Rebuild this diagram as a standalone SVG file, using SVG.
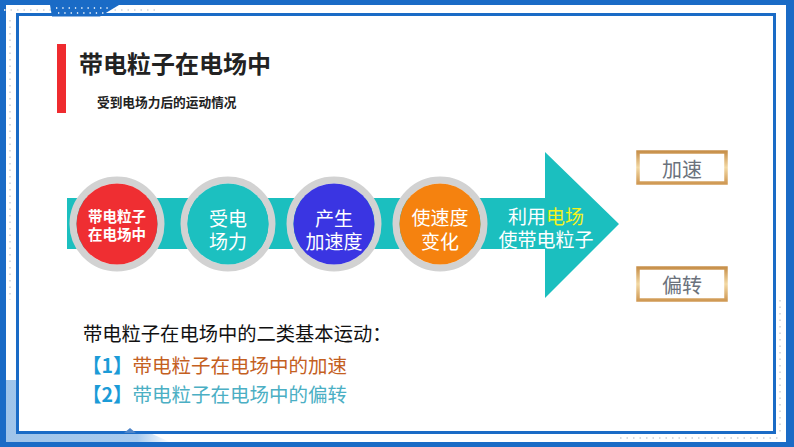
<svg xmlns="http://www.w3.org/2000/svg" width="794" height="447" viewBox="0 0 794 447">
<defs>
<style>
.cjk{font-family:"Noto Sans CJK SC","Noto Sans",sans-serif;}
.ctext{fill:#ffffff;font-size:19px;text-anchor:middle;dominant-baseline:central;}
.small{font-size:14.5px;font-weight:bold;}
.ring{fill:none;stroke:#d2d2d2;stroke-width:7;}
.box{fill:#ffffff;stroke:url(#gold);stroke-width:3.5;}
.btext{fill:#6b727c;font-size:20px;text-anchor:middle;dominant-baseline:central;}
.brk{fill:#1b9bd7;font-weight:bold;}
</style>
<linearGradient id="gold" x1="0" y1="0" x2="0" y2="1">
<stop offset="0" stop-color="#c8914c"/>
<stop offset="0.5" stop-color="#f3d9a4"/>
<stop offset="1" stop-color="#d09a55"/>
</linearGradient>
<linearGradient id="lb" x1="0" y1="0" x2="1" y2="0">
<stop offset="0" stop-color="#9fc4ea"/>
<stop offset="0.8" stop-color="#a9cbee"/>
<stop offset="1" stop-color="#a9cbee" stop-opacity="0"/>
</linearGradient>
</defs>

<g id="frame">
<rect x="0" y="0" width="794" height="447" fill="#1a6bc6"/>
<rect x="6" y="5" width="780" height="437" fill="#ffffff"/>
<polygon points="6,380 17,380 17,433 150,433 170,442 6,442" fill="url(#lb)"/>
<line x1="10" y1="20" x2="10" y2="300" stroke="#d6dbe2" stroke-width="2" stroke-dasharray="1.5 5"/>
<line x1="4" y1="10" x2="160" y2="10" stroke="#d6dbe2" stroke-width="2" stroke-dasharray="1.5 5"/>
<line x1="780" y1="300" x2="780" y2="436" stroke="#d6dbe2" stroke-width="2" stroke-dasharray="1.5 5"/>
<line x1="620" y1="438" x2="780" y2="438" stroke="#d6dbe2" stroke-width="2" stroke-dasharray="1.5 5"/>
<rect x="17.5" y="14.5" width="757" height="418" fill="none" stroke="#1a6bc6" stroke-width="3"/>
<polygon points="50,5 119,5 100,16.5 52,16.5" fill="#1a6bc6"/>
<line x1="56" y1="8" x2="112" y2="8" stroke="#ffffff" stroke-width="1.3" stroke-dasharray="1.3 5"/>
<line x1="58" y1="13" x2="104" y2="13" stroke="#ffffff" stroke-width="1.3" stroke-dasharray="1.3 5"/>
<polygon points="124,433 130,428 136,433" fill="#4f86c9"/>
</g>

<g id="title">
<rect x="57" y="44" width="9" height="69" fill="#ef2b2f"/>
<text class="cjk" x="79" y="62" font-size="24" font-weight="bold" fill="#222222" dominant-baseline="central">带电粒子在电场中</text>
<text class="cjk" x="97" y="101" font-size="12.7" font-weight="bold" fill="#222222" dominant-baseline="central">受到电场力后的运动情况</text>
</g>

<g id="arrow">
<polygon points="67,198 545,198 545,152 619,224 545,298 545,249 67,249" fill="#1bbfbf"/>
<text class="cjk ctext" x="546" y="215"><tspan>利用</tspan><tspan fill="#f4f21e">电场</tspan><tspan x="546" dy="23" fill="#ffffff">使带电粒子</tspan></text>
</g>

<g id="node1">
<circle cx="117" cy="224" r="44" class="ring"/>
<circle cx="117" cy="224" r="40.5" fill="#ef2e32"/>
<text class="cjk ctext small" x="117" y="215">带电粒子<tspan x="117" dy="18">在电场中</tspan></text>
</g>

<g id="node2">
<circle cx="228" cy="224" r="44" class="ring"/>
<circle cx="228" cy="224" r="40.5" fill="#1cc0c0"/>
<text class="cjk ctext" x="228" y="217">受电<tspan x="228" dy="23">场力</tspan></text>
</g>

<g id="node3">
<circle cx="334" cy="224" r="44" class="ring"/>
<circle cx="334" cy="224" r="40.5" fill="#3a35e2"/>
<text class="cjk ctext" x="334" y="217">产生<tspan x="334" dy="23">加速度</tspan></text>
</g>

<g id="node4">
<circle cx="440" cy="224" r="44" class="ring"/>
<circle cx="440" cy="224" r="40.5" fill="#f5820f"/>
<text class="cjk ctext" x="440" y="216">使速度<tspan x="440" dy="24">变化</tspan></text>
</g>

<g id="box1">
<rect x="638" y="152" width="88" height="31" class="box"/>
<text class="cjk btext" x="682" y="168">加速</text>
</g>

<g id="box2">
<rect x="638" y="268" width="88" height="32" class="box"/>
<text class="cjk btext" x="682" y="284">偏转</text>
</g>

<g id="bottomtext">
<text class="cjk" x="83" y="333" font-size="19.3" fill="#111111" dominant-baseline="central">带电粒子在电场中的二类基本运动：</text>
<text class="cjk" x="82" y="364" font-size="19.5" dominant-baseline="central"><tspan class="brk">【1】</tspan><tspan fill="#c4601f">带电粒子在电场中的加速</tspan></text>
<text class="cjk" x="82" y="393" font-size="19.5" dominant-baseline="central"><tspan class="brk">【2】</tspan><tspan fill="#4bafc4">带电粒子在电场中的偏转</tspan></text>
</g>
</svg>
